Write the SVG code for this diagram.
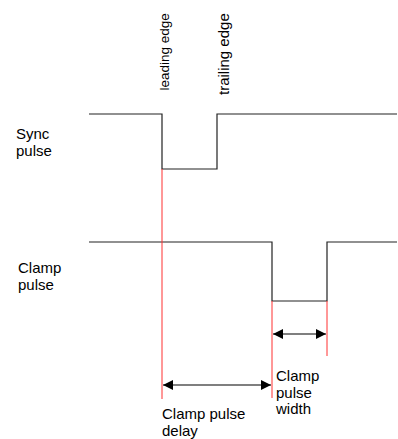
<svg xmlns="http://www.w3.org/2000/svg" width="398" height="439" viewBox="0 0 398 439">
<defs>
<marker id="ah" viewBox="0 0 10 10" refX="10" refY="5" markerWidth="10" markerHeight="10" markerUnits="userSpaceOnUse" orient="auto-start-reverse">
<path d="M0,0 L10,5 L0,10 z" fill="#000"/>
</marker>
<style>
.t{font-family:"Liberation Sans",Arial,sans-serif;font-size:15px;fill:#000}
.w{fill:none;stroke:#222;stroke-width:1.2}
.r{stroke:#ff3030;stroke-width:1;fill:none}
.a{stroke:#000;stroke-width:1.2;fill:none}
</style>
</defs>
<rect width="398" height="439" fill="#fff"/>
<g id="sync">
<polyline class="w" points="89,114 162,114 162,169 217,169 217,114 397,114"/>
<text class="t" x="16" y="139">Sync</text>
<text class="t" x="16" y="156">pulse</text>
</g>
<g id="clamp">
<polyline class="w" points="89,242 272,242 272,301 327,301 327,242 397,242"/>
<text class="t" x="18" y="273">Clamp</text>
<text class="t" x="18" y="290">pulse</text>
</g>
<g id="leading-edge">
<text class="t" transform="translate(169,90.5) rotate(-90)" style="font-size:13.5px">leading edge</text>
</g>
<g id="trailing-edge">
<text class="t" transform="translate(229,95) rotate(-90)">trailing edge</text>
</g>
<g id="connectors">
<line class="r" x1="162" y1="169" x2="162" y2="399"/>
<line class="r" x1="272" y1="301" x2="272" y2="398"/>
<line class="r" x1="327" y1="301" x2="327" y2="356"/>
<line class="a" x1="273" y1="334" x2="326" y2="334" marker-start="url(#ah)" marker-end="url(#ah)"/>
<line class="a" x1="163" y1="385" x2="271" y2="385" marker-start="url(#ah)" marker-end="url(#ah)"/>
</g>
<g id="width-label">
<text class="t" x="276" y="381">Clamp</text>
<text class="t" x="276" y="398">pulse</text>
<text class="t" x="276" y="414">width</text>
</g>
<g id="delay-label">
<text class="t" x="162" y="419">Clamp pulse</text>
<text class="t" x="162" y="436">delay</text>
</g>
</svg>
